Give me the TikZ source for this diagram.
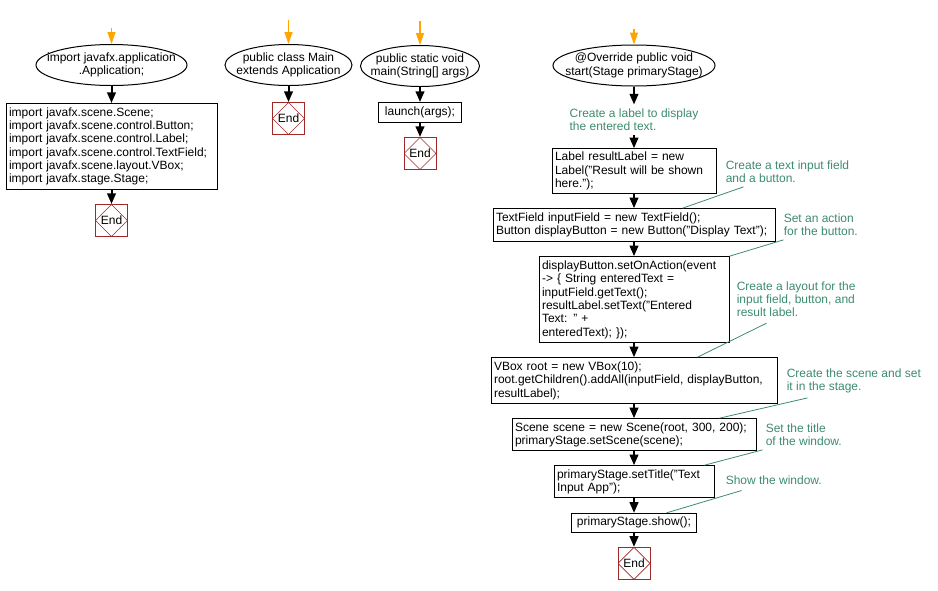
\documentclass[tikz,border=0pt]{standalone}
\usepackage{fontspec}
\setmainfont{Liberation Sans}
\usetikzlibrary{shapes.geometric,arrows.meta,positioning,calc}
\definecolor{EndRed}{RGB}{160,40,40}
\definecolor{NoteGreen}{RGB}{61,139,109}
\definecolor{FlowOrange}{RGB}{255,165,0}
\tikzset{
  base/.style={font=\fontsize{9}{10}\selectfont},
  sbox/.style={base,draw,ellipse,line width=0.75pt,inner xsep=-30pt,
               inner ysep=0pt,align=center,minimum height=30.75pt},
  cbox/.style={base,draw,line width=0.75pt,inner xsep=2.25pt,
               inner ysep=2pt,align=left},
  ebox/.style={base,draw=EndRed,line width=0.75pt,minimum size=24pt,inner sep=0pt,
               path picture={\draw[EndRed,line width=0.5pt]
                 (path picture bounding box.north) -- (path picture bounding box.east)
                 -- (path picture bounding box.south) -- (path picture bounding box.west)
                 -- cycle;}},
  note/.style={base,text=NoteGreen,align=left,inner sep=0pt},
  arr/.style={-{Triangle[length=8pt,width=6.5pt]},line width=1.5pt},
  arro/.style={-{Triangle[length=9pt,width=6pt]},FlowOrange,line width=0.9pt},
  nline/.style={NoteGreen,line width=0.6pt},
}

\begin{document}
\begin{tikzpicture}[x=0.75pt,y=-0.75pt,node distance=10.5pt]
  \useasboundingbox (0,0) rectangle (938,590);
  % imports
  \node[sbox,minimum width=113.25pt] (imp) at (111.5,65) {import javafx.application\\.Application;};
  \node[cbox,text width=153.75pt,minimum height=64.5pt,below=12.75pt of imp] (imps)
    {import javafx.scene.Scene;\\import javafx.scene.control.Button;\\import javafx.scene.control.Label;\\import javafx.scene.control.TextField;\\import javafx.scene.layout.VBox;\\import javafx.stage.Stage;};
  \node[ebox,below=of imps] (end1) {End};
  \coordinate[above=12pt of imp] (in1);
  \draw[arro] (in1) -- (imp);
  \draw[arr] (imp) -- (imps);
  \draw[arr] (imps) -- (end1);

  % class
  \node[sbox,minimum width=95.25pt] (cls) at (288.5,65) {public class Main\\extends Application};
  \node[ebox,below=12pt of cls] (end2) {End};
  \coordinate[above=18pt of cls] (in2);
  \draw[arro] (in2) -- (cls);
  \draw[arr] (cls) -- (end2);

  % main
  \node[sbox,minimum width=89.25pt] (mainm) at (420,66) {public static void\\main(String[] args)};
  \node[cbox,minimum width=62.25pt,minimum height=15pt,align=center,below=11.25pt of mainm] (launch) {launch(args);};
  \node[ebox,below=of launch] (end3) {End};
  \coordinate[above=18pt of mainm] (in3);
  \draw[arro] (in3) -- (mainm);
  \draw[arr] (mainm) -- (launch);
  \draw[arr] (launch) -- (end3);

  % start
  \node[sbox,minimum width=121.5pt] (start) at (634,65.5) {@Override public void\\start(Stage primaryStage)};
  \node[note,inner ysep=3pt,below=13.5pt of start] (c1) {Create a label to display\\the entered text.};
  \node[cbox,text width=118.5pt,minimum height=33.75pt,below=9.75pt of c1] (lbl)
    {Label resultLabel = new\\Label("Result will be shown\\here.");};
  \node[cbox,text width=207pt,minimum height=24.75pt,below=of lbl] (tf)
    {TextField inputField = new TextField();\\Button displayButton = new Button("Display Text");};
  \node[cbox,text width=138pt,minimum height=64.5pt,below=of tf] (act)
    {displayButton.setOnAction(event\\-> \{ String enteredText =\\inputField.getText();\\resultLabel.setText("Entered\\Text: " +\\enteredText); \});};
  \node[cbox,text width=210pt,minimum height=34.5pt,below=of act] (vbox)
    {VBox root = new VBox(10);\\root.getChildren().addAll(inputField, displayButton,\\resultLabel);};
  \node[cbox,text width=178.5pt,minimum height=24pt,below=of vbox] (scene)
    {Scene scene = new Scene(root, 300, 200);\\primaryStage.setScene(scene);};
  \node[cbox,text width=115.5pt,minimum height=24pt,below=of scene] (title)
    {primaryStage.setTitle("Text\\Input App");};
  \node[cbox,minimum width=93.75pt,minimum height=14.25pt,align=center,below=11pt of title] (show)
    {primaryStage.show();};
  \node[ebox,below=of show] (end4) {End};
  \coordinate[above=12pt of start] (in4);
  \draw[arro] (in4) -- (start);
  \draw[arr] (start) -- (c1);
  \draw[arr] (c1) -- (lbl);
  \draw[arr] (lbl) -- (tf);
  \draw[arr] (tf) -- (act);
  \draw[arr] (act) -- (vbox);
  \draw[arr] (vbox) -- (scene);
  \draw[arr] (scene) -- (title);
  \draw[arr] (title) -- (show);
  \draw[arr] (show) -- (end4);

  % notes
  \node[note,below right=9pt and 6.75pt of lbl.north east] (c2) {Create a text input field\\and a button.};
  \node[note,below right=3.75pt and 6pt of tf.north east] (c3) {Set an action\\for the button.};
  \node[note,below right=18.75pt and 5.25pt of act.north east] (c4) {Create a layout for the\\input field, button, and\\result label.};
  \node[note,below right=8.25pt and 6.75pt of vbox.north east] (c5) {Create the scene and set\\it in the stage.};
  \node[note,below right=3.75pt and 6.75pt of scene.north east] (c6) {Set the title\\of the window.};
  \node[note,below right=7.5pt and 8.25pt of title.north east] (c7) {Show the window.};
  \draw[nline] ($(c2.south west)+(13.5pt,-3pt)$) -- ($(tf.north)+(36.4pt,0pt)$);
  \draw[nline] ($(c3.south west)+(0pt,-3pt)$) -- (act.north east);
  \draw[nline] ($(c4.south west)+(22.5pt,-4.5pt)$) -- ($(vbox.north)+(47.6pt,0pt)$);
  \draw[nline] ($(c5.south west)+(15.75pt,-3.5pt)$) -- ($(scene.north)+(64.1pt,0pt)$);
  \draw[nline] ($(c6.south west)+(-2.25pt,-3pt)$) -- ($(title.north)+(52.9pt,0pt)$);
  \draw[nline] ($(c7.south west)+(12pt,-4.5pt)$) -- ($(show.north)+(24.4pt,0pt)$);
\end{tikzpicture}
\end{document}
